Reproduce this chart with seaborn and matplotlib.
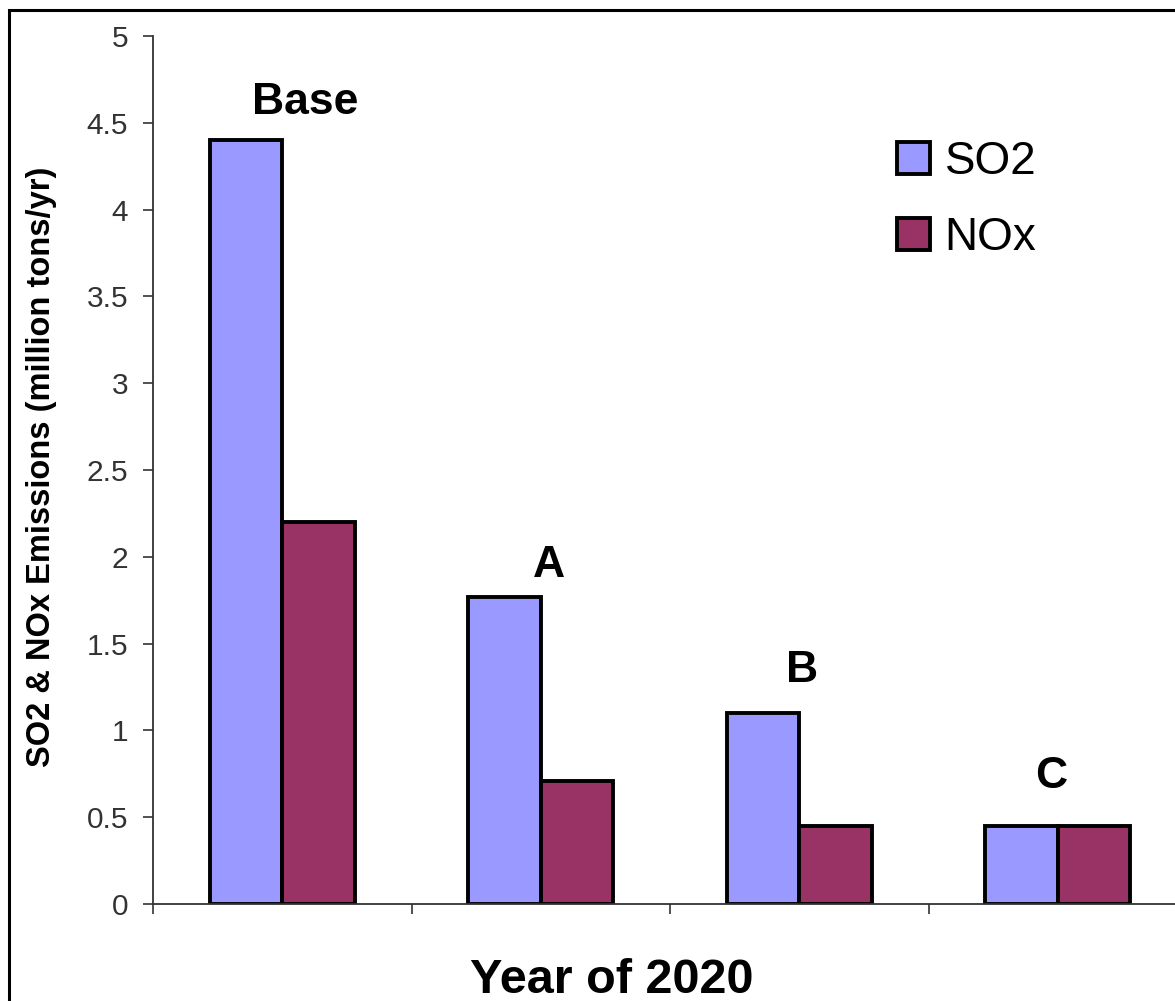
import matplotlib
matplotlib.use("Agg")
import matplotlib.pyplot as plt
import seaborn as sns
import pandas as pd
from matplotlib.patches import Rectangle

# Emission scenarios for 2020
scenarios = ["Base", "A", "B", "C"]
so2 = [4.4, 1.77, 1.1, 0.45]
nox = [2.2, 0.71, 0.45, 0.45]
series = ["SO2", "NOx"]
palette = {"SO2": "#9999FF", "NOx": "#993366"}
yticks = [0, 0.5, 1, 1.5, 2, 2.5, 3, 3.5, 4, 4.5, 5]
ytick_labels = ["0", "0.5", "1", "1.5", "2", "2.5", "3", "3.5", "4", "4.5", "5"]

df = pd.DataFrame({
    "scenario": scenarios * 2,
    "pollutant": [series[0]] * len(scenarios) + [series[1]] * len(scenarios),
    "emissions": so2 + nox,
})

sns.set_theme(style="white")
plt.rcParams["font.family"] = ["Liberation Sans", "DejaVu Sans"]
plt.rcParams["text.color"] = "black"

W, H = 1175, 1001
fig = plt.figure(figsize=(W / 100, H / 100), dpi=100)
# Axes run past the right edge of the canvas
ax = fig.add_axes([153 / W, (H - 904) / H, 1034 / W, 868 / H])

sns.barplot(data=df, x="scenario", y="emissions", hue="pollutant",
            order=scenarios, hue_order=series, palette=palette,
            width=0.56, edgecolor="black", linewidth=2.8,
            saturation=1, ax=ax, legend=True)

ax.set_xlim(-0.5, 3.5)
ax.set_ylim(0, 5)
ax.set_yticks(yticks)
ax.set_yticklabels(ytick_labels)
ax.set_xticks([-0.5, 0.5, 1.5, 2.5, 3.5])
ax.set_xticklabels([])
ax.tick_params(axis="y", which="major", direction="out", length=7, width=1.2,
               color="#333333", pad=11, labelsize=21.5, labelcolor="#333333",
               left=True)
ax.tick_params(axis="x", which="major", direction="out", length=7, width=1.2,
               color="#333333", bottom=True)
for side in ["top", "right"]:
    ax.spines[side].set_visible(False)
for side in ["left", "bottom"]:
    ax.spines[side].set_color("#333333")
    ax.spines[side].set_linewidth(1.3)

ax.set_xlabel("")
ax.set_ylabel("")
fig.text(612 / W, (H - 993) / H, "Year of 2020", ha="center", va="baseline",
         fontsize=35, fontweight="bold", color="black")
fig.text(42 / W, (H - 467) / H, "SO2 & NOx Emissions (million tons/yr)",
         rotation=90, ha="center", va="center", fontsize=23.5, fontweight="bold",
         color="black")

# Scenario names over each pair of bars
offsets = [(23, 38), (8, 31), (3, 43), (-7, 49)]
for i, name in enumerate(scenarios):
    top = max(so2[i], nox[i])
    ax.annotate(name, xy=(i, top), xytext=offsets[i], textcoords="offset pixels",
                ha="center", va="center", fontsize=32, fontweight="bold",
                color="black")

handles, labels = ax.get_legend_handles_labels()
for h in handles:
    h.set_linewidth(2.8)
    h.set_edgecolor("black")
leg = ax.legend(handles, labels, loc="upper left",
                bbox_to_anchor=(897 / W, (H - 140) / H), bbox_transform=fig.transFigure,
                frameon=False, fontsize=33, handlelength=0.72, handleheight=0.72,
                handletextpad=0.32, labelspacing=0.7, borderpad=0, borderaxespad=0)
for t in leg.get_texts():
    t.set_color("black")

# Outer frame
fig.patches.append(Rectangle((8.5 / W, -0.01), 1.1, (H - 10) / H + 0.01,
                             transform=fig.transFigure, fill=False,
                             edgecolor="black", linewidth=2.2))

fig.savefig("out.png", dpi=100)
